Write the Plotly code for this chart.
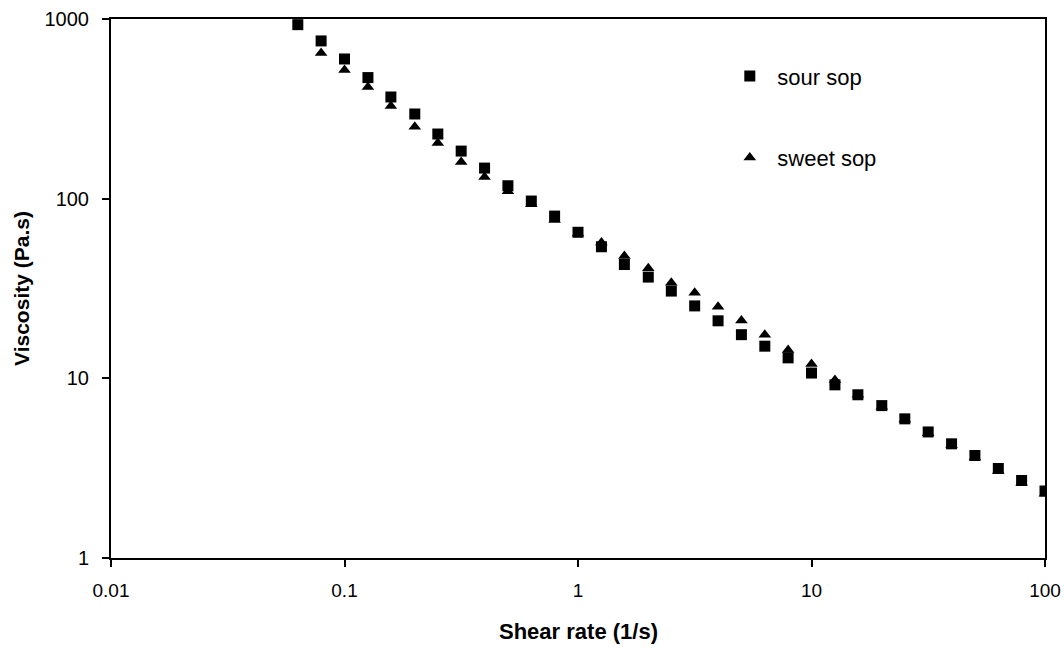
import plotly.graph_objects as go

shear_rate = [0.0631, 0.0794, 0.1, 0.126, 0.158, 0.2, 0.251, 0.316, 0.398, 0.501,
              0.631, 0.794, 1.0, 1.26, 1.58, 2.0, 2.51, 3.16, 3.98, 5.01,
              6.31, 7.94, 10.0, 12.6, 15.8, 20.0, 25.1, 31.6, 39.8, 50.1,
              63.1, 79.4, 100.0]

sour_sop = [930, 755, 599, 472, 368, 296, 229, 184, 148, 118,
            97, 80, 65, 54, 43, 36.6, 30.6, 25.3, 20.9, 17.5,
            15.1, 13.0, 10.7, 9.2, 8.1, 7.05, 5.95, 5.03, 4.32, 3.72,
            3.15, 2.70, 2.36]

sweet_sop = [None, 647, 520, 419, 328, 251, 204, 160, 132, 110,
             93, 76, 64, 57, 48, 41, 34, 29.9, 25, 21,
             17.5, 14.4, 12.0, 9.8, 8.1, 6.95, 5.9, 4.95, 4.25, 3.62,
             3.05, 2.62, 2.28]

x_tickvals = [0.01, 0.1, 1, 10, 100]
x_ticktext = ["0.01", "0.1", "1", "10", "100"]
y_tickvals = [1, 10, 100, 1000]
y_ticktext = ["1", "10", "100", "1000"]

x_title = "Shear rate (1/s)"
y_title = "Viscosity (Pa.s)"

FONT = "Liberation Sans, Arial, sans-serif"

fig = go.Figure()
fig.add_trace(go.Scatter(
    x=shear_rate, y=sweet_sop, mode="markers", name="sweet sop",
    legendgroup="b", legendrank=2,
    marker=dict(symbol="triangle-up", size=11, color="black"),
))
fig.add_trace(go.Scatter(
    x=shear_rate, y=sour_sop, mode="markers", name="sour sop",
    legendgroup="a", legendrank=1,
    marker=dict(symbol="square", size=11, color="black"),
))

fig.update_layout(
    width=1064, height=648,
    margin=dict(l=111, r=19, t=19, b=90),
    paper_bgcolor="white", plot_bgcolor="white",
    font=dict(family=FONT, size=19, color="black"),
    showlegend=True,
    legend=dict(
        x=0.6545, y=0.933, xanchor="left", yanchor="top",
        bgcolor="rgba(0,0,0,0)", font=dict(size=22),
        tracegroupgap=50, traceorder="grouped", itemwidth=45,
    ),
    xaxis=dict(
        type="log", range=[-2, 2], automargin=False,
        tickvals=x_tickvals, ticktext=x_ticktext, tickfont=dict(size=19),
        ticks="outside", ticklen=7, tickwidth=1.5, tickcolor="black",
        showline=True, linecolor="black", linewidth=2, mirror=True,
        showgrid=False, zeroline=False, ticklabelstandoff=7,
    ),
    yaxis=dict(
        type="log", range=[0, 3], automargin=False,
        tickvals=y_tickvals, ticktext=y_ticktext, tickfont=dict(size=20),
        ticks="outside", ticklen=7, tickwidth=1.5, tickcolor="black",
        showline=True, linecolor="black", linewidth=2, mirror=True,
        showgrid=False, zeroline=False, ticklabelstandoff=9,
    ),
    annotations=[
        dict(text="<b>" + x_title + "</b>", xref="paper", yref="paper",
             x=0.5, y=-0.137, xanchor="center", yanchor="middle",
             showarrow=False, font=dict(size=22)),
        dict(text="<b>" + y_title + "</b>", xref="paper", yref="paper",
             x=-0.0953, y=0.501, xanchor="center", yanchor="middle",
             textangle=-90, showarrow=False, font=dict(size=21)),
    ],
)

fig.write_html(
    "out.html",
    config={"displayModeBar": False},
    post_script="document.body.style.margin='0';document.body.style.overflow='hidden';",
)
